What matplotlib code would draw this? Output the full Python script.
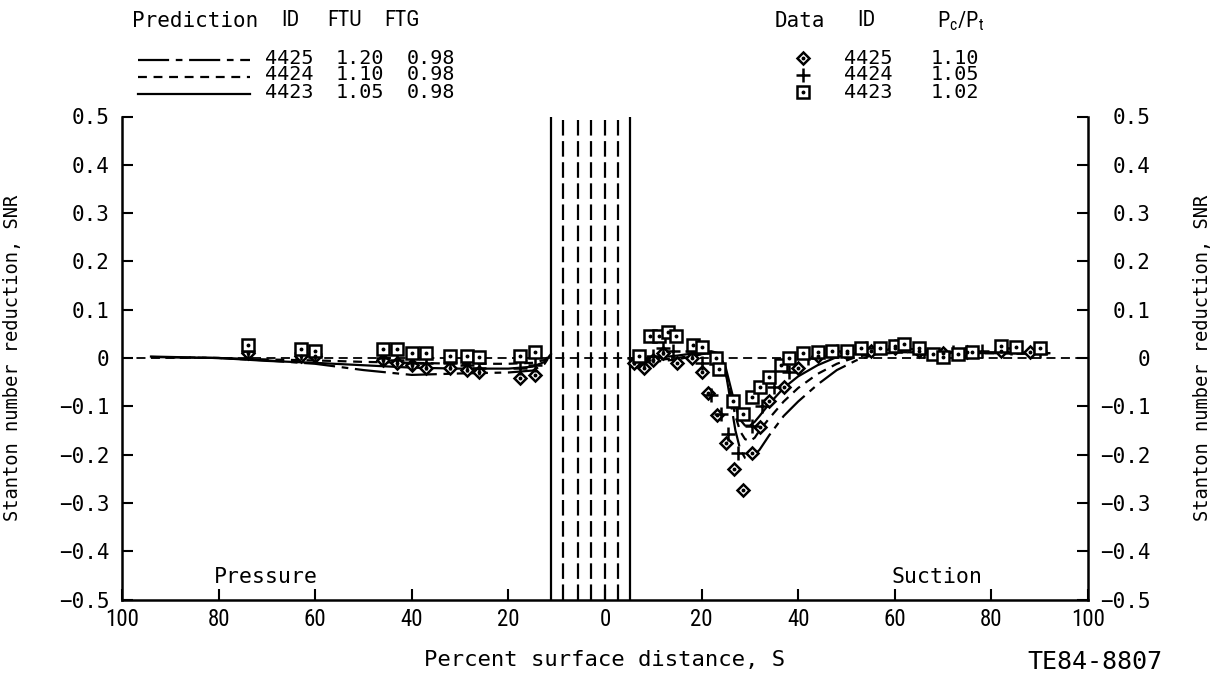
import numpy as np
import matplotlib
matplotlib.use("Agg")
import matplotlib.pyplot as plt
from matplotlib.lines import Line2D

plt.rcParams['font.family'] = ['Roboto Condensed', 'Liberation Sans', 'DejaVu Sans']
MONO = 'DejaVu Sans Mono'

# Legend tables
pred_ids = ['4425', '4424', '4423']
pred_ftu = ['1.20', '1.10', '1.05']
pred_ftg = ['0.98', '0.98', '0.98']
data_ids = ['4425', '4424', '4423']
data_pc_pt = ['1.10', '1.05', '1.02']

# Leading-edge region lines (percent surface distance, pressure side negative)
le_solid = [-11.2, 5.2]
le_dashed = [-8.7, -5.6, -2.9, 0.0, 2.7]

# Predictions, pressure side
pred_x_pressure = [-94, -80, -70, -60, -50, -40, -30, -20, -15, -12.5, -11.2]
pred_4425_pressure = [0.002, 0.0, -0.005, -0.012, -0.025, -0.035, -0.032, -0.03, -0.026, -0.012, 0.008]
pred_4424_pressure = [0.002, 0.0, -0.003, -0.005, -0.008, -0.01, -0.012, -0.012, -0.01, -0.004, 0.008]
pred_4423_pressure = [0.003, 0.0, -0.006, -0.01, -0.015, -0.02, -0.022, -0.022, -0.018, -0.008, 0.008]

# Predictions, suction side
pred_x_suction = [5.2, 10, 15, 20, 22, 23.5, 25, 26, 27, 28, 29, 30, 31, 32, 34, 37,
                  40, 44, 48, 52, 56, 62, 70, 80, 92]
pred_4425_suction = [-0.012, -0.008, -0.003, 0.008, 0.011, 0.008, -0.03, -0.09, -0.15, -0.19, -0.207,
                     -0.21, -0.2, -0.19, -0.16, -0.12, -0.09, -0.055, -0.025, -0.005, 0.008,
                     0.012, 0.01, 0.01, 0.008]
pred_4424_suction = [-0.01, -0.005, 0.0, 0.008, 0.01, 0.007, -0.03, -0.075, -0.12, -0.152, -0.168,
                     -0.172, -0.165, -0.15, -0.125, -0.09, -0.062, -0.033, -0.012, 0.002, 0.01,
                     0.012, 0.01, 0.01, 0.01]
pred_4423_suction = [-0.006, 0.0, 0.005, 0.012, 0.014, 0.01, -0.02, -0.06, -0.1, -0.128, -0.14,
                     -0.14, -0.132, -0.12, -0.095, -0.062, -0.038, -0.015, 0.002, 0.01, 0.015,
                     0.02, 0.012, 0.012, 0.01]

# Measured data
data_4425_x = [-74, -63, -60, -46, -43, -40, -37, -32, -28.5, -26, -17.6, -14.5,
               6, 8, 10, 12, 15, 18, 20, 21.3, 23.2, 25, 26.7, 28.5, 30.4, 32, 34, 37,
               40, 44, 50, 55, 60, 65, 70, 75, 82, 88]
data_4425_y = [0.01, 0.005, 0.005, -0.005, -0.01, -0.015, -0.02, -0.02, -0.025, -0.03, -0.042, -0.035,
               -0.01, -0.02, -0.005, 0.01, -0.01, 0.0, -0.03, -0.073, -0.119, -0.175, -0.23, -0.273,
               -0.196, -0.143, -0.09, -0.06, -0.02, 0.005, 0.01, 0.015, 0.02, 0.015, 0.01, 0.012,
               0.015, 0.012]

data_4424_x = [-74, -63, -60, -46, -43, -40, -37, -32, -28.5, -26, -17.6, -14.5,
               6, 8, 10, 12, 14, 18, 20, 22, 24, 25.5, 27.5, 30.5, 32.5, 35, 38,
               42, 48, 54, 60, 66, 72, 78, 84, 90]
data_4424_y = [0.015, 0.01, 0.008, 0.0, -0.005, -0.01, -0.01, -0.01, -0.015, -0.02, -0.02, -0.015,
               0.0, -0.005, 0.005, 0.02, 0.015, 0.015, -0.01, -0.077, -0.115, -0.157, -0.196,
               -0.14, -0.1, -0.06, -0.03, 0.0, 0.015, 0.02, 0.025, 0.015, 0.012, 0.015, 0.02, 0.015]

data_4423_x = [-74, -63, -60, -46, -43, -40, -37, -32, -28.5, -26, -17.6, -14.5,
               7, 9.3, 11.2, 13, 14.7, 18.2, 20, 23, 23.5, 26.5, 28.5, 30.5, 32, 34, 36.5,
               38, 41, 44, 47, 50, 53, 57, 60, 62, 65, 68, 70, 73, 76, 82, 85, 90]
data_4423_y = [0.027, 0.018, 0.015, 0.018, 0.018, 0.01, 0.01, 0.005, 0.005, 0.003, 0.005, 0.012,
               0.005, 0.046, 0.046, 0.054, 0.046, 0.027, 0.023, 0.0, -0.023, -0.088, -0.115, -0.08,
               -0.06, -0.04, -0.015, 0.0, 0.01, 0.012, 0.015, 0.015, 0.02, 0.02, 0.025, 0.028,
               0.02, 0.008, 0.003, 0.008, 0.012, 0.025, 0.022, 0.02]

x_ticks = [-100, -80, -60, -40, -20, 0, 20, 40, 60, 80, 100]
y_ticks = [0.5, 0.4, 0.3, 0.2, 0.1, 0.0, -0.1, -0.2, -0.3, -0.4, -0.5]
y_tick_labels = ['0.5', '0.4', '0.3', '0.2', '0.1', '0', '\u22120.1', '\u22120.2',
                 '\u22120.3', '\u22120.4', '\u22120.5']

W, H = 1212, 682
ylabel = 'Stanton number reduction, SNR'

styles = {
    '4425': dict(linestyle=(0, (14, 3, 3, 3))),
    '4424': dict(linestyle=(0, (4, 3))),
    '4423': dict(linestyle='-'),
}
markers = {
    '4425': dict(marker='D', markersize=6.5),
    '4424': dict(marker='+', markersize=10),
    '4423': dict(marker='s', markersize=8),
}

fig = plt.figure(figsize=(W / 100, H / 100), dpi=100)
ax = fig.add_axes([122 / W, 1 - 599.5 / H, 966 / W, 483 / H])

# Zero reference line
ax.axhline(0, color='black', lw=1.3, linestyle=(0, (5, 3)), zorder=1)

# Leading-edge region
for xv in le_solid:
    ax.axvline(xv, color='black', lw=1.6, zorder=2)
for xv in le_dashed:
    ax.axvline(xv, color='black', lw=1.6, linestyle=(0, (7, 2.5)), zorder=2)

# Prediction curves
pred_series = [
    ('4425', pred_4425_pressure, pred_4425_suction),
    ('4424', pred_4424_pressure, pred_4424_suction),
    ('4423', pred_4423_pressure, pred_4423_suction),
]
for pid, yp, ys in pred_series:
    xx = np.concatenate([pred_x_pressure, [np.nan], pred_x_suction])
    yy = np.concatenate([yp, [np.nan], ys])
    ax.plot(xx, yy, color='black', lw=1.6, zorder=3, **styles[pid])

# Data symbols
data_series = [
    ('4425', data_4425_x, data_4425_y),
    ('4424', data_4424_x, data_4424_y),
    ('4423', data_4423_x, data_4423_y),
]
for did, dx, dy in data_series:
    ax.plot(dx, dy, linestyle='none', color='black', markerfacecolor='white',
            markeredgecolor='black', markeredgewidth=1.8, zorder=4, **markers[did])
    if did != '4424':
        ax.plot(dx, dy, linestyle='none', marker='o', markersize=1.8, color='black', zorder=5)

ax.set_xlim(-100, 100)
ax.set_ylim(-0.5, 0.5)
ax.set_xticks(x_ticks)
ax.set_xticklabels([str(abs(v)) for v in x_ticks], fontsize=16.5)
ax.set_yticks(y_ticks)
ax.set_yticklabels(y_tick_labels, fontsize=15, family=MONO)
ax.tick_params(axis='both', direction='in', length=8, width=1.5, pad=6)
ax.tick_params(axis='y', pad=9)
ax.spines['top'].set_visible(False)
ax.spines['right'].set_visible(False)
for s in ['left', 'bottom']:
    ax.spines[s].set_linewidth(1.8)

# Right-hand axis, same scale
ax2 = ax.twinx()
ax2.set_ylim(-0.5, 0.5)
ax2.set_yticks(y_ticks)
ax2.set_yticklabels(y_tick_labels, fontsize=15, family=MONO)
ax2.tick_params(axis='y', direction='in', length=8, width=1.5, pad=45)
plt.setp(ax2.get_yticklabels(), ha='right')
for s in ['left', 'top', 'bottom']:
    ax2.spines[s].set_visible(False)
ax2.spines['right'].set_linewidth(1.8)

ax.set_ylabel(ylabel, fontsize=13.5, family=MONO)
ax.yaxis.set_label_coords(-0.104, 0.5)
ax2.set_ylabel(ylabel, fontsize=13.5, family=MONO)
ax2.yaxis.set_label_coords(1.109, 0.5)
ax.set_xlabel('Percent surface distance, S', fontsize=16, family=MONO)
ax.xaxis.set_label_coords(0.5, -0.105)

ax.text(-70.3, -0.453, 'Pressure', fontsize=15.5, family=MONO, ha='center', va='center')
ax.text(68.7, -0.453, 'Suction', fontsize=15.5, family=MONO, ha='center', va='center')
fig.text(1095 / W, 1 - 662 / H, 'TE84-8807', fontsize=18, family=MONO, ha='center', va='center')


def fx(px):
    return px / W


def fy(py):
    return 1 - py / H


# Prediction legend
hdr_y = 21
row_y = [58, 75, 92]
fig.text(fx(195), fy(hdr_y), 'Prediction', fontsize=15, family=MONO, ha='center', va='center')
fig.text(fx(290), fy(hdr_y), 'ID', fontsize=16, ha='center', va='center')
fig.text(fx(345), fy(hdr_y), 'FTU', fontsize=16, ha='center', va='center')
fig.text(fx(402), fy(hdr_y), 'FTG', fontsize=16, ha='center', va='center')
for i, pid in enumerate(pred_ids):
    fig.add_artist(Line2D([fx(138), fx(250)], [fy(row_y[i] + 2), fy(row_y[i] + 2)],
                          transform=fig.transFigure, color='black', lw=1.6, **styles[pid]))
    fig.text(fx(289), fy(row_y[i]), pid, fontsize=14.5, family=MONO, ha='center', va='center')
    fig.text(fx(360), fy(row_y[i]), pred_ftu[i], fontsize=14.5, family=MONO, ha='center', va='center')
    fig.text(fx(431), fy(row_y[i]), pred_ftg[i], fontsize=14.5, family=MONO, ha='center', va='center')

# Data legend
fig.text(fx(800), fy(hdr_y), 'Data', fontsize=15, family=MONO, ha='center', va='center')
fig.text(fx(866), fy(hdr_y), 'ID', fontsize=16, ha='center', va='center')
fig.text(fx(961), fy(hdr_y), r'P$_\mathregular{c}$/P$_\mathregular{t}$', fontsize=16,
         ha='center', va='center')
for i, did in enumerate(data_ids):
    fig.add_artist(Line2D([fx(803)], [fy(row_y[i])], transform=fig.transFigure, linestyle='none',
                          color='black', markerfacecolor='white', markeredgewidth=1.8,
                          **markers[did]))
    if did != '4424':
        fig.add_artist(Line2D([fx(803)], [fy(row_y[i])], transform=fig.transFigure,
                              linestyle='none', marker='o', markersize=1.8, color='black'))
    fig.text(fx(868), fy(row_y[i]), did, fontsize=14.5, family=MONO, ha='center', va='center')
    fig.text(fx(955), fy(row_y[i]), data_pc_pt[i], fontsize=14.5, family=MONO, ha='center', va='center')

fig.savefig('out.png', dpi=100)
